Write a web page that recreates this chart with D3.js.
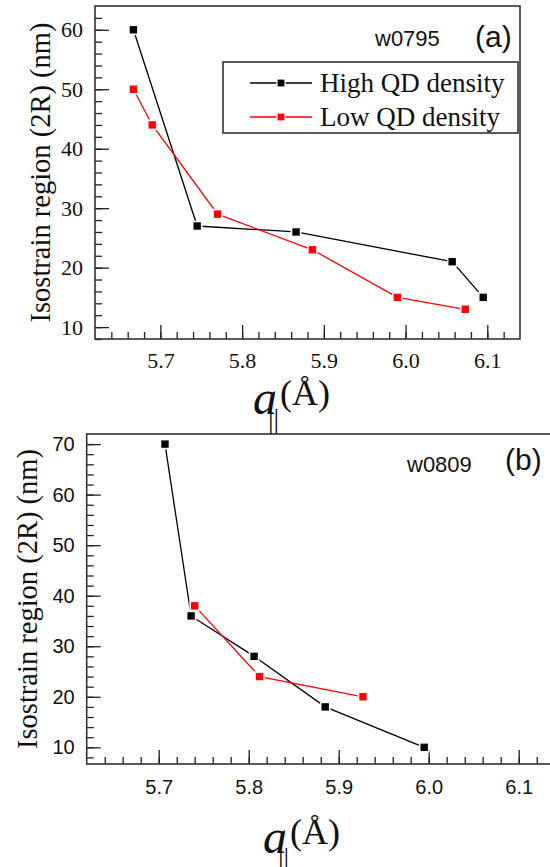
<!DOCTYPE html>
<html>
<head>
<meta charset="utf-8">
<script src="https://cdn.jsdelivr.net/npm/d3@7"></script>
<style>
  body { margin: 0; background: #fff; }
  svg { display: block; }
</style>
</head>
<body>
<div id="grafik"></div>
<script>
const SERIF = "Liberation Serif";
const SANS = "Liberation Sans";

// x ekseni (her iki panel)
const xTicks = [5.7, 5.8, 5.9, 6.0, 6.1];

// panel (a) - w0795
const aYTicks = [10, 20, 30, 40, 50, 60];
const aHighX = [5.667, 5.745, 5.866, 6.057, 6.095];
const aHighY = [60, 27, 26, 21, 15];
const aLowX = [5.667, 5.690, 5.770, 5.886, 5.990, 6.073];
const aLowY = [50, 44, 29, 23, 15, 13];

// panel (b) - w0809
const bYTicks = [10, 20, 30, 40, 50, 60, 70];
const bHighX = [5.707, 5.736, 5.806, 5.885, 5.995];
const bHighY = [70, 36, 28, 18, 10];
const bLowX = [5.740, 5.812, 5.927];
const bLowY = [38, 24, 20];

const seriesNames = ["High QD density", "Low QD density"];
const seriesColors = ["#000000", "#ff0000"];

const svg = d3.select("#grafik")
  .append("svg")
  .attr("width", 550)
  .attr("height", 867);

function panel(cfg) {
  const x = d3.scaleLinear().domain([5.62, 6.14]).range([cfg.left, cfg.right]);
  const y = d3.scaleLinear().domain(cfg.yDomain).range([cfg.bottom, cfg.top]);
  const g = svg.append("g");

  // kucuk tikler
  const xMinor = d3.range(5.64, 6.135, 0.02);
  const yMinor = d3.range(Math.ceil(cfg.yDomain[0] / 2) * 2, cfg.yDomain[1] - 0.5, 2);

  g.append("g")
    .attr("transform", `translate(0,${cfg.bottom})`)
    .call(d3.axisBottom(x).tickValues(xMinor).tickSize(-cfg.minor).tickFormat(""))
    .call(a => a.select(".domain").remove());
  g.append("g")
    .attr("transform", `translate(${cfg.left},0)`)
    .call(d3.axisLeft(y).tickValues(yMinor).tickSize(-cfg.minor).tickFormat(""))
    .call(a => a.select(".domain").remove());

  // buyuk tikler + etiketler
  const xAx = g.append("g")
    .attr("transform", `translate(0,${cfg.bottom})`)
    .call(d3.axisBottom(x).tickValues(xTicks).tickSize(-cfg.major)
      .tickPadding(cfg.xPad).tickFormat(d3.format(".1f")))
    .attr("font-family", cfg.tickFont)
    .attr("font-size", cfg.xTickSize);
  xAx.select(".domain").remove();
  xAx.selectAll("text").attr("fill", "#111");

  const yAx = g.append("g")
    .attr("transform", `translate(${cfg.left},0)`)
    .call(d3.axisLeft(y).tickValues(cfg.yTicks).tickSize(-cfg.major).tickPadding(cfg.yPad))
    .attr("font-family", cfg.tickFont)
    .attr("font-size", cfg.yTickSize);
  yAx.select(".domain").remove();
  yAx.selectAll("text").attr("fill", "#111");

  g.selectAll(".tick line").attr("stroke", "#222").attr("stroke-width", 1.3);

  // cerceve
  g.append("rect")
    .attr("x", cfg.left).attr("y", cfg.top)
    .attr("width", cfg.right - cfg.left).attr("height", cfg.bottom - cfg.top)
    .attr("fill", "none").attr("stroke", "#333").attr("stroke-width", 1.6);

  // seriler
  const cizgi = d3.line().x(d => x(d[0])).y(d => y(d[1]));
  cfg.series.forEach((s, i) => {
    const pts = s.xs.map((v, k) => [v, s.ys[k]]);
    g.append("path").datum(pts)
      .attr("d", cizgi)
      .attr("fill", "none")
      .attr("stroke", seriesColors[i])
      .attr("stroke-width", 1.3);
    g.selectAll(null).data(pts).enter().append("rect")
      .attr("x", d => x(d[0]) - 4.5).attr("y", d => y(d[1]) - 4.5)
      .attr("width", 9).attr("height", 9)
      .attr("fill", seriesColors[i])
      .attr("stroke", "#fff").attr("stroke-width", 1.6);
  });

  // y ekseni basligi
  g.append("text")
    .attr("transform", `translate(${cfg.yLabelX},${(cfg.top + cfg.bottom) / 2 + cfg.yLabelShift}) rotate(-90)`)
    .attr("text-anchor", "middle")
    .attr("font-family", SERIF)
    .attr("font-size", 28.5)
    .attr("fill", "#111")
    .text("Isostrain region (2R) (nm)");

  // ornek kodu ve panel harfi
  g.append("text")
    .attr("x", cfg.tagX).attr("y", cfg.tagY)
    .attr("font-family", SANS).attr("font-size", 22).attr("fill", "#111")
    .text(cfg.tag);
  g.append("text")
    .attr("x", cfg.letterX).attr("y", cfg.letterY)
    .attr("font-family", SANS).attr("font-size", 30).attr("fill", "#111")
    .text(cfg.letter);

  // x ekseni basligi: a|| (Å)
  const lx = cfg.xLabelX, ly = cfg.xLabelY;
  g.append("text")
    .attr("x", lx).attr("y", ly)
    .attr("font-family", SERIF)
    .attr("font-size", 48).attr("font-style", "italic").attr("fill", "#111")
    .text("a");
  g.append("text")
    .attr("x", lx + 27).attr("y", ly - 9)
    .attr("font-family", SERIF)
    .attr("font-size", 36).attr("fill", "#111")
    .text("(Å)");
  g.append("text")
    .attr("x", lx + 15).attr("y", ly + 14)
    .attr("font-family", SERIF)
    .attr("font-size", 28).attr("fill", "#111")
    .text("||");

  return { x, y, g };
}

// panel (b) once, boylece (a)'nin alt indisi ustte kalir
panel({
  left: 86.7, right: 554.7, top: 434, bottom: 764,
  yDomain: [6.7, 72], yTicks: bYTicks,
  major: 14, minor: 7, xPad: 16, yPad: 12,
  tickFont: SANS, xTickSize: 20, yTickSize: 20,
  yLabelX: 37, yLabelShift: 0,
  tag: "w0809", tagX: 407, tagY: 472,
  letter: "(b)", letterX: 505, letterY: 470,
  xLabelX: 263, xLabelY: 853,
  series: [{ xs: bHighX, ys: bHighY }, { xs: bLowX, ys: bLowY }]
});

const pa = panel({
  left: 95, right: 520, top: 6, bottom: 339,
  yDomain: [8, 64], yTicks: aYTicks,
  major: 14, minor: 7, xPad: 13, yPad: 12,
  tickFont: SERIF, xTickSize: 22, yTickSize: 22,
  yLabelX: 50, yLabelShift: 0,
  tag: "w0795", tagX: 375, tagY: 46,
  letter: "(a)", letterX: 475, letterY: 47,
  xLabelX: 253, xLabelY: 414,
  series: [{ xs: aHighX, ys: aHighY }, { xs: aLowX, ys: aLowY }]
});

// lejant (a)
const lej = pa.g.append("g");
lej.append("rect")
  .attr("x", 223).attr("y", 62).attr("width", 295).attr("height", 71)
  .attr("fill", "#fff").attr("stroke", "#333").attr("stroke-width", 1.6);
const lejRows = lej.selectAll("g.satir").data(seriesNames).enter().append("g")
  .attr("class", "satir")
  .attr("transform", (d, i) => `translate(0,${83 + i * 34})`);
lejRows.append("line")
  .attr("x1", 250).attr("x2", 312)
  .attr("stroke", (d, i) => seriesColors[i]).attr("stroke-width", 1.3);
lejRows.append("rect")
  .attr("x", 277).attr("y", -4).attr("width", 8).attr("height", 8)
  .attr("fill", (d, i) => seriesColors[i]).attr("stroke", "#fff").attr("stroke-width", 1.2);
lejRows.append("text")
  .attr("x", 320).attr("y", 9)
  .attr("font-family", SERIF)
  .attr("font-size", 27).attr("fill", "#111")
  .text(d => d);
</script>
</body>
</html>
